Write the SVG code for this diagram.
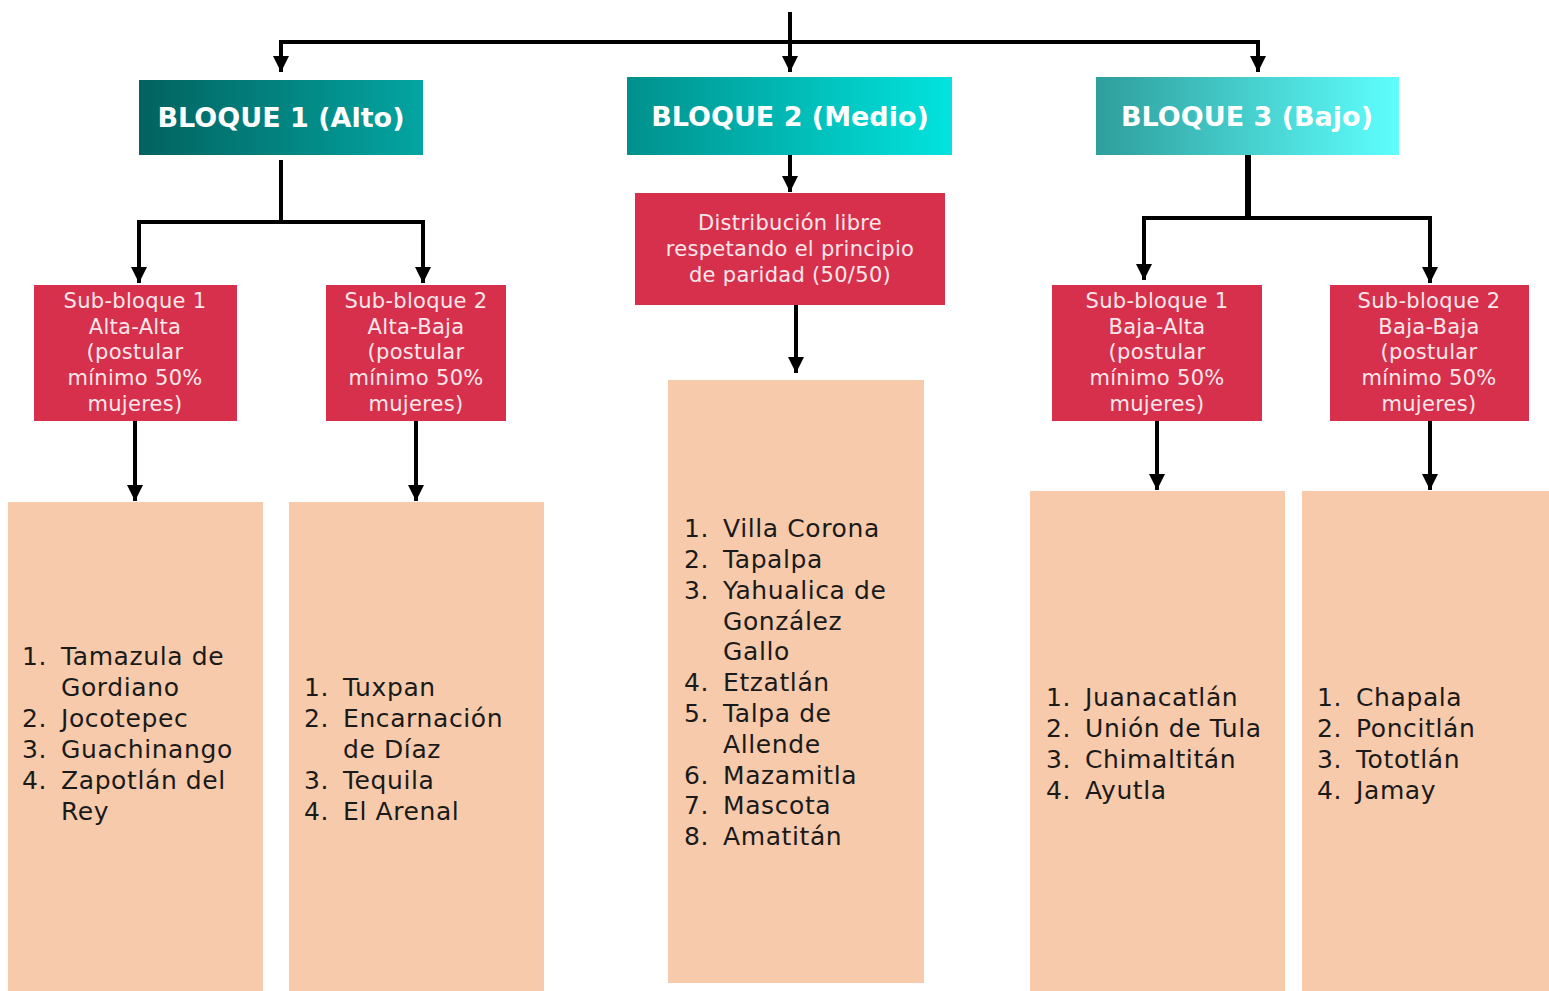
<svg xmlns="http://www.w3.org/2000/svg" width="1549" height="991" viewBox="0 0 1549 991">
<defs>
<linearGradient id="g1" x1="0" x2="1" y1="0" y2="0"><stop offset="0" stop-color="#02625f"/><stop offset="1" stop-color="#03a5a2"/></linearGradient>
<linearGradient id="g2" x1="0" x2="1" y1="0" y2="0"><stop offset="0" stop-color="#01908c"/><stop offset="1" stop-color="#03e3de"/></linearGradient>
<linearGradient id="g3" x1="0" x2="1" y1="0" y2="0"><stop offset="0" stop-color="#2e9e9c"/><stop offset="1" stop-color="#5efffe"/></linearGradient>
<marker id="ah" viewBox="0 0 10 10" refX="10" refY="5" markerWidth="4" markerHeight="4" markerUnits="strokeWidth" orient="auto"><path d="M0,0 L10,5 L0,10 z" fill="#000"/></marker>
<style>
.hdr{font-family:"DejaVu Sans","Liberation Sans",sans-serif;font-weight:bold;font-size:27px;fill:#fff;text-anchor:middle}
.red{fill:#d6304d}
.or{fill:#f7caac}
.sb{font-family:"DejaVu Sans","Liberation Sans",sans-serif;font-size:21px;letter-spacing:0.3px;fill:#fbe7ea;text-anchor:middle}
.li{font-family:"DejaVu Sans","Liberation Sans",sans-serif;font-size:25px;letter-spacing:0.6px;fill:#1a1a1a}
.c{fill:none;stroke:#000;stroke-width:4}
.ca{fill:none;stroke:#000;stroke-width:4;marker-end:url(#ah)}
</style>
</defs>
<rect width="1549" height="991" fill="#fff"/>
<g id="connectors">
<path class="c" d="M790,12 V42"/>
<path class="c" d="M281,42 H1258"/>
<path class="ca" d="M281,40 V72"/>
<path class="ca" d="M790,40 V72"/>
<path class="ca" d="M1258,40 V72"/>
<path class="c" d="M281,160 V222"/>
<path class="c" d="M139,222 H423"/>
<path class="ca" d="M139,220 V283"/>
<path class="ca" d="M423,220 V283"/>
<path class="ca" d="M135,421 V501"/>
<path class="ca" d="M416,421 V501"/>
<path class="ca" d="M790,155 V192"/>
<path class="ca" d="M796,305 V373"/>
<path class="c" d="M1248,155 V218" style="stroke-width:6"/>
<path class="c" d="M1144,218 H1430"/>
<path class="ca" d="M1144,216 V280"/>
<path class="ca" d="M1430,216 V283"/>
<path class="ca" d="M1157,421 V490"/>
<path class="ca" d="M1430,421 V490"/>
</g>
<g id="bloque1"><rect x="139" y="80" width="284" height="75" fill="url(#g1)"/><text class="hdr" x="281" y="127">BLOQUE 1 (Alto)</text></g>
<g id="bloque2"><rect x="627" y="77" width="325" height="78" fill="url(#g2)"/><text class="hdr" x="790" y="126">BLOQUE 2 (Medio)</text></g>
<g id="bloque3"><rect x="1096" y="77" width="303" height="78" fill="url(#g3)"/><text class="hdr" x="1247" y="126">BLOQUE 3 (Bajo)</text></g>
<g id="sub1a"><rect class="red" x="34" y="285" width="203" height="136"/>
<text class="sb" x="135" y="308">Sub-bloque 1</text><text class="sb" x="135" y="334">Alta-Alta</text><text class="sb" x="135" y="359">(postular</text><text class="sb" x="135" y="385">mínimo 50%</text><text class="sb" x="135" y="411">mujeres)</text></g>
<g id="sub1b"><rect class="red" x="326" y="285" width="180" height="136"/>
<text class="sb" x="416" y="308">Sub-bloque 2</text><text class="sb" x="416" y="334">Alta-Baja</text><text class="sb" x="416" y="359">(postular</text><text class="sb" x="416" y="385">mínimo 50%</text><text class="sb" x="416" y="411">mujeres)</text></g>
<g id="dist"><rect class="red" x="635" y="193" width="310" height="112"/>
<text class="sb" x="790" y="230">Distribución libre</text><text class="sb" x="790" y="256">respetando el principio</text><text class="sb" x="790" y="282">de paridad (50/50)</text></g>
<g id="sub3a"><rect class="red" x="1052" y="285" width="210" height="136"/>
<text class="sb" x="1157" y="308">Sub-bloque 1</text><text class="sb" x="1157" y="334">Baja-Alta</text><text class="sb" x="1157" y="359">(postular</text><text class="sb" x="1157" y="385">mínimo 50%</text><text class="sb" x="1157" y="411">mujeres)</text></g>
<g id="sub3b"><rect class="red" x="1330" y="285" width="199" height="136"/>
<text class="sb" x="1429" y="308">Sub-bloque 2</text><text class="sb" x="1429" y="334">Baja-Baja</text><text class="sb" x="1429" y="359">(postular</text><text class="sb" x="1429" y="385">mínimo 50%</text><text class="sb" x="1429" y="411">mujeres)</text></g>
<g id="list1a"><rect class="or" x="8" y="502" width="255" height="489"/>
<text class="li" x="22" y="665">1.</text><text class="li" x="61" y="665">Tamazula de</text>
<text class="li" x="61" y="696">Gordiano</text>
<text class="li" x="22" y="727">2.</text><text class="li" x="61" y="727">Jocotepec</text>
<text class="li" x="22" y="758">3.</text><text class="li" x="61" y="758">Guachinango</text>
<text class="li" x="22" y="789">4.</text><text class="li" x="61" y="789">Zapotlán del</text>
<text class="li" x="61" y="820">Rey</text></g>
<g id="list1b"><rect class="or" x="289" y="502" width="255" height="489"/>
<text class="li" x="304" y="696">1.</text><text class="li" x="343" y="696">Tuxpan</text>
<text class="li" x="304" y="727">2.</text><text class="li" x="343" y="727">Encarnación</text>
<text class="li" x="343" y="758">de Díaz</text>
<text class="li" x="304" y="789">3.</text><text class="li" x="343" y="789">Tequila</text>
<text class="li" x="304" y="820">4.</text><text class="li" x="343" y="820">El Arenal</text></g>
<g id="list2"><rect class="or" x="668" y="380" width="256" height="603"/>
<text class="li" x="684" y="537">1.</text><text class="li" x="723" y="537">Villa Corona</text>
<text class="li" x="684" y="568">2.</text><text class="li" x="723" y="568">Tapalpa</text>
<text class="li" x="684" y="599">3.</text><text class="li" x="723" y="599">Yahualica de</text>
<text class="li" x="723" y="630">González</text>
<text class="li" x="723" y="660">Gallo</text>
<text class="li" x="684" y="691">4.</text><text class="li" x="723" y="691">Etzatlán</text>
<text class="li" x="684" y="722">5.</text><text class="li" x="723" y="722">Talpa de</text>
<text class="li" x="723" y="753">Allende</text>
<text class="li" x="684" y="784">6.</text><text class="li" x="723" y="784">Mazamitla</text>
<text class="li" x="684" y="814">7.</text><text class="li" x="723" y="814">Mascota</text>
<text class="li" x="684" y="845">8.</text><text class="li" x="723" y="845">Amatitán</text></g>
<g id="list3a"><rect class="or" x="1030" y="491" width="255" height="500"/>
<text class="li" x="1046" y="706">1.</text><text class="li" x="1085" y="706">Juanacatlán</text>
<text class="li" x="1046" y="737">2.</text><text class="li" x="1085" y="737">Unión de Tula</text>
<text class="li" x="1046" y="768">3.</text><text class="li" x="1085" y="768">Chimaltitán</text>
<text class="li" x="1046" y="799">4.</text><text class="li" x="1085" y="799">Ayutla</text></g>
<g id="list3b"><rect class="or" x="1302" y="491" width="247" height="500"/>
<text class="li" x="1317" y="706">1.</text><text class="li" x="1356" y="706">Chapala</text>
<text class="li" x="1317" y="737">2.</text><text class="li" x="1356" y="737">Poncitlán</text>
<text class="li" x="1317" y="768">3.</text><text class="li" x="1356" y="768">Tototlán</text>
<text class="li" x="1317" y="799">4.</text><text class="li" x="1356" y="799">Jamay</text></g>
</svg>
